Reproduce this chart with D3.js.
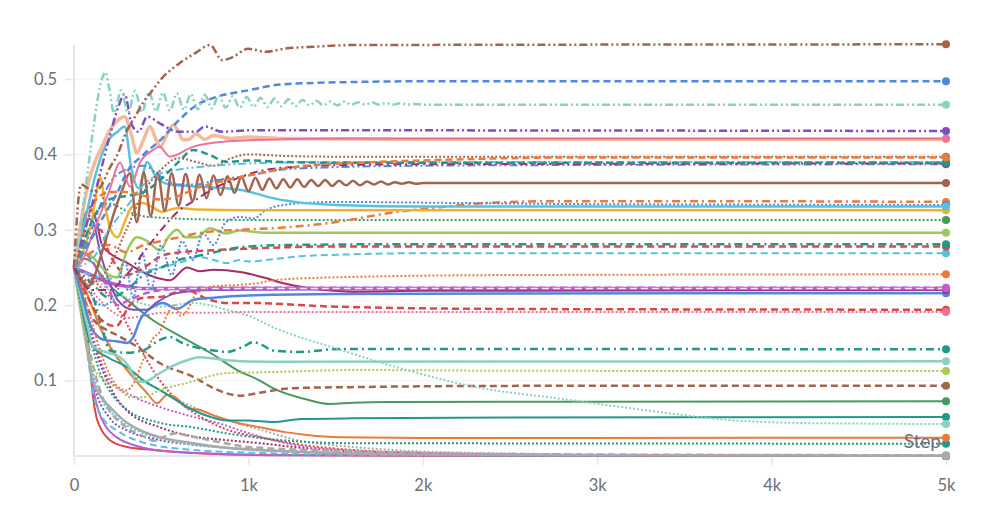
<!DOCTYPE html>
<html><head><meta charset="utf-8">
<script src="https://cdn.jsdelivr.net/npm/d3@7"></script>
<style>body{margin:0;background:#fff;} svg{display:block;} text{font-family:"Source Sans Pro",Lato,"Open Sans",sans-serif;}</style>
</head><body><svg id="c" width="997" height="524"></svg>
<script>
// ---- axis ticks ----
const xTicks = [0, 1000, 2000, 3000, 4000, 5000];
const xTickLabels = ["0", "1k", "2k", "3k", "4k", "5k"];
const yTicks = [0.1, 0.2, 0.3, 0.4, 0.5];
const xTitle = "Step";

// ---- series data: [step, value] ----
const redSolid = [[0,.25],[34,.233],[55,.2],[75,.167],[92,.12],[109,.078],[128,.052],[149,.0385],[206,.021],[304,.012],[453,.008],[683,.004],[1000,.0015],[2000,.0003],[5000,0]];
const violetSolid = [[0,.25],[40,.21],[80,.14],[110,.09],[140,.06],[180,.04],[250,.024],[350,.014],[500,.007],[800,.003],[1200,.001],[5000,0]];
const cyanDashLow = [[0,.25],[40,.2],[80,.13],[109,.085],[166,.05],[246,.034],[395,.018],[683,.008],[1066,.004],[2000,.001],[5000,0]];
const purpleDot = [[0,.25],[40,.21],[80,.15],[109,.1],[206,.05],[304,.034],[493,.021],[683,.015],[1000,.009],[1500,.004],[2500,.001],[5000,0]];
const cyanDot = [[0,.25],[50,.19],[100,.12],[150,.08],[250,.05],[400,.03],[600,.018],[900,.01],[1400,.005],[2500,.001],[5000,0]];
const maroonDot = [[0,.25],[50,.21],[100,.16],[200,.095],[304,.06],[493,.038],[683,.026],[877,.021],[1066,.017],[1300,.011],[1600,.006],[2000,.003],[3000,.001],[5000,0]];
const magentaDot = [[0,.25],[60,.2],[120,.15],[206,.1],[350,.078],[493,.065],[683,.052],[850,.042],[952,.034],[1140,.021],[1335,.012],[1525,.008],[2000,.004],[3000,.001],[5000,0]];
const redDot = [[0,.25],[100,.235],[246,.198],[361,.15],[493,.1],[600,.072],[683,.058],[877,.035],[1066,.025],[1300,.015],[1600,.008],[2000,.004],[3000,.001],[5000,0]];
const grayDot = [[0,.25],[100,.2],[246,.131],[493,.0875],[683,.065],[877,.048],[1066,.035],[1300,.02],[1600,.012],[2000,.006],[3000,.002],[5000,0]];
const graySolid = [[0,.25],[40,.19],[80,.135],[109,.1],[150,.08],[206,.065],[304,.044],[400,.032],[493,.025],[683,.017],[877,.011],[1066,.008],[1500,.004],[2000,.002],[3000,.001],[5000,.0005]];
const grayDash = [[0,.25],[40,.2],[80,.15],[120,.11],[160,.08],[200,.062],[300,.038],[400,.026],[460,.02],[520,.026],[580,.03],[650,.027],[800,.02],[1000,.012],[1500,.007],[2000,.004],[3000,.002],[5000,.001]];
const tealDot = [[0,.25],[50,.2],[100,.15],[150,.11],[200,.088],[300,.062],[493,.044],[683,.038],[877,.03],[1066,.024],[1300,.019],[1600,.017],[5000,.0163]];
const orangeSolid = [[0,.25],[50,.23],[100,.2],[150,.17],[206,.145],[304,.114],[418,.0835],[476,.07],[533,.081],[580,.078],[648,.064],[722,.061],[820,.052],[935,.044],[1066,.038],[1200,.032],[1335,.028],[1525,.025],[2000,.024],[5000,.0243]];
const tealSolid = [[0,.25],[40,.2],[80,.16],[109,.145],[200,.13],[304,.118],[400,.1],[493,.0875],[600,.072],[683,.061],[780,.052],[877,.047],[1000,.047],[1140,.045],[1300,.049],[1600,.05],[2500,.051],[5000,.0517]];
const greenSolid = [[0,.25],[50,.262],[100,.258],[150,.242],[206,.226],[304,.207],[453,.18],[648,.154],[780,.137],[935,.114],[1066,.1],[1140,.09],[1335,.075],[1468,.069],[1600,.0705],[1800,.0716],[3000,.072],[5000,.0725]];
const brownDash = [[0,.25],[50,.215],[100,.185],[189,.167],[250,.16],[361,.145],[493,.123],[683,.105],[800,.09],[877,.083],[950,.08],[1066,.084],[1256,.09],[1640,.0915],[2500,.093],[5000,.0932]];
const ygDot = [[0,.25],[40,.19],[80,.14],[110,.118],[180,.1],[264,.0875],[321,.078],[395,.078],[493,.0875],[648,.097],[877,.11],[1066,.111],[1640,.114],[2500,.113],[5000,.1127]];
const mintSolid = [[0,.25],[40,.21],[80,.17],[110,.145],[180,.138],[264,.131],[310,.12],[361,.1],[395,.098],[440,.102],[493,.11],[570,.12],[648,.127],[722,.131],[877,.127],[1100,.125],[5000,.1256]];
const tealDashDotLow = [[0,.25],[60,.23],[110,.21],[160,.17],[206,.14],[300,.137],[395,.14],[493,.154],[550,.158],[620,.15],[683,.145],[800,.14],[877,.138],[970,.145],[1028,.151],[1080,.147],[1140,.14],[1296,.138],[1525,.142],[5000,.1415]];
const mintDot = [[0,.25],[100,.24],[200,.22],[300,.21],[493,.198],[683,.203],[877,.194],[1000,.186],[1140,.171],[1525,.141],[1909,.114],[2290,.092],[2787,.076],[3170,.064],[3500,.054],[3744,.048],[4123,.044],[4500,.043],[5000,.0424]];
const pinkDot = [[0,.25],[100,.22],[200,.195],[300,.183],[400,.186],[500,.19],[800,.19],[1000,.191],[5000,.191]];
const redDash = [[0,.25],[80,.21],[160,.18],[240,.172],[320,.2],[400,.21],[493,.211],[640,.22],[780,.207],[880,.203],[1000,.203],[1500,.198],[2500,.195],[5000,.194]];
const blueSolid = [[0,.25],[50,.21],[100,.17],[172,.154],[250,.152],[304,.15],[340,.158],[378,.18],[453,.198],[510,.203],[590,.195],[683,.207],[800,.21],[1000,.213],[1500,.215],[5000,.216]];
const purpleSolid = [[0,.25],[40,.29],[80,.315],[110,.31],[150,.27],[200,.233],[250,.207],[338,.194],[418,.194],[470,.203],[590,.216],[800,.22],[1500,.221],[5000,.221]];
const maroonSolid = [[0,.25],[40,.3],[90,.33],[130,.31],[160,.28],[200,.27],[304,.256],[453,.238],[550,.233],[648,.25],[720,.245],[800,.247],[952,.244],[1100,.236],[1200,.229],[1335,.223],[1600,.218],[2000,.219],[5000,.22]];
const magentaSolid = [[0,.25],[100,.24],[200,.23],[300,.225],[400,.222],[5000,.222]];
const magentaDash = [[0,.25],[50,.27],[100,.26],[150,.24],[200,.22],[250,.2],[300,.205],[400,.215],[500,.22],[700,.223],[5000,.223]];
const paleDash = [[0,.25],[100,.235],[200,.225],[300,.222],[5000,.222]];
const orangeDot = [[0,.25],[50,.22],[100,.18],[150,.14],[200,.11],[250,.092],[300,.087],[350,.1],[400,.13],[450,.155],[493,.165],[540,.19],[580,.2],[610,.186],[640,.19],[700,.215],[800,.225],[950,.227],[1050,.229],[1140,.233],[1500,.237],[2500,.24],[5000,.241]];
const cyanDash = [[0,.25],[100,.24],[200,.235],[300,.24],[400,.245],[500,.25],[600,.256],[722,.264],[800,.26],[877,.256],[950,.26],[1000,.258],[1140,.261],[1300,.265],[1525,.267],[2000,.269],[5000,.269]];
const redDashHigh = [[0,.25],[100,.29],[150,.3],[200,.27],[250,.25],[300,.24],[400,.25],[500,.265],[600,.27],[800,.273],[1000,.275],[1500,.278],[5000,.278]];
const tealDashDot = [[0,.25],[100,.23],[200,.21],[300,.22],[400,.24],[500,.25],[600,.26],[700,.265],[800,.27],[900,.275],[1000,.278],[1300,.28],[2000,.281],[5000,.281]];
const lightGreen = [[0,.25],[40,.27],[100,.265],[160,.25],[200,.24],[246,.237],[300,.27],[361,.29],[420,.285],[493,.273],[540,.29],[590,.3],[640,.29],[700,.29],[780,.302],[870,.295],[950,.299],[1100,.296],[1500,.296],[5000,.296]];
const greenDot = [[0,.25],[50,.28],[100,.31],[150,.33],[200,.335],[300,.325],[400,.318],[500,.316],[700,.314],[1000,.313],[5000,.313]];
const orangeDashDot = [[0,.25],[100,.27],[200,.28],[300,.27],[400,.28],[500,.285],[600,.29],[700,.295],[800,.298],[950,.3],[1200,.303],[1525,.311],[1800,.322],[2100,.33],[2400,.336],[2800,.338],[3500,.338],[5000,.337]];
const blueDot = [[0,.25],[80,.22],[160,.2],[240,.21],[290,.26],[340,.21],[390,.27],[440,.22],[500,.28],[560,.24],[620,.285],[680,.26],[740,.295],[800,.28],[870,.31],[950,.317],[1030,.315],[1100,.326],[1200,.333],[1500,.337],[2000,.336],[3000,.334],[5000,.333]];
const yellowSolid = [[0,.25],[50,.27],[100,.31],[130,.35],[150,.37],[180,.33],[210,.3],[250,.29],[290,.31],[330,.33],[390,.336],[450,.33],[500,.324],[600,.329],[700,.327],[1000,.326],[5000,.326]];
const cyanSolid = [[0,.25],[40,.29],[80,.33],[120,.37],[160,.4],[200,.42],[250,.43],[290,.437],[330,.38],[370,.355],[420,.39],[470,.37],[550,.36],[740,.357],[950,.353],[1180,.34],[1500,.333],[2000,.331],[5000,.331]];
const brownSolid = [[0,.25],[40,.235],[80,.225],[120,.24],[160,.27],[200,.3],[240,.33],[280,.355],[320,.375],[360,.31],[400,.376],[440,.318],[480,.376],[520,.325],[560,.375],[600,.332],[640,.374],[680,.338],[720,.373],[760,.342],[800,.372],[840,.346],[880,.371],[920,.349],[960,.37],[1000,.351],[1040,.369],[1080,.353],[1120,.368],[1160,.355],[1200,.367],[1240,.356],[1280,.367],[1320,.357],[1360,.366],[1400,.358],[1440,.366],[1480,.358],[1520,.365],[1560,.359],[1600,.365],[1640,.359],[1680,.364],[1720,.36],[1760,.364],[1800,.36],[1840,.363],[1880,.361],[1920,.363],[1960,.361],[2000,.362],[3000,.362],[5000,.362]];
const brownDot = [[0,.25],[100,.23],[200,.25],[300,.3],[400,.35],[500,.38],[600,.395],[700,.39],[800,.385],[900,.395],[1000,.4],[1200,.398],[1500,.397],[5000,.397]];
const cyanDDD = [[0,.25],[100,.26],[200,.3],[300,.33],[400,.36],[500,.375],[600,.38],[800,.385],[1000,.388],[1500,.39],[5000,.39]];
const blueDDD = [[0,.25],[100,.3],[200,.36],[300,.38],[400,.385],[500,.37],[600,.36],[700,.36],[800,.365],[1000,.372],[1200,.38],[1500,.383],[2000,.385],[3000,.386],[5000,.387]];
const maroonDashDot = [[0,.25],[100,.22],[200,.22],[300,.24],[400,.27],[500,.3],[600,.325],[700,.34],[800,.355],[900,.365],[1066,.378],[1300,.384],[1600,.386],[2000,.387],[5000,.388]];
const tealDash = [[0,.25],[50,.28],[100,.31],[150,.33],[200,.34],[300,.345],[400,.35],[493,.366],[600,.39],[683,.406],[780,.399],[877,.39],[1000,.392],[1200,.39],[1500,.389],[5000,.389]];
const orangeDash = [[0,.25],[50,.29],[100,.33],[150,.345],[200,.35],[300,.35],[400,.345],[500,.34],[600,.345],[700,.355],[877,.366],[1066,.375],[1256,.383],[1640,.389],[2000,.392],[2500,.395],[3000,.396],[5000,.396]];
const pinkSolid = [[0,.25],[50,.26],[100,.29],[150,.32],[200,.35],[264,.389],[321,.357],[380,.39],[453,.406],[490,.41],[550,.397],[680,.41],[870,.417],[1200,.42],[1600,.421],[5000,.421]];
const peachSolid = [[0,.25],[40,.31],[80,.36],[120,.39],[160,.41],[200,.43],[250,.445],[290,.45],[330,.425],[360,.402],[400,.42],[436,.437],[470,.42],[495,.41],[530,.425],[568,.439],[600,.43],[625,.419],[660,.42],[700,.427],[750,.42],[800,.425],[900,.421],[1000,.423],[1200,.421],[2000,.42],[5000,.42]];
const purpleDDD = [[0,.25],[100,.33],[200,.42],[250,.46],[290,.48],[330,.44],[370,.43],[420,.45],[500,.44],[600,.43],[700,.43],[750,.437],[850,.43],[1000,.432],[5000,.431]];
const blueDash = [[0,.25],[80,.28],[150,.31],[200,.33],[250,.35],[300,.375],[400,.4],[500,.42],[600,.445],[700,.465],[800,.475],[1000,.485],[1200,.493],[1600,.496],[2000,.497],[5000,.497]];
const mintDDD = [[0,.25],[40,.31],[80,.38],[120,.45],[160,.5],[180,.509],[200,.49],[230,.455],[270,.485],[310,.455],[350,.484],[390,.456],[430,.483],[470,.457],[510,.482],[550,.458],[590,.481],[630,.459],[670,.48],[710,.46],[750,.479],[790,.461],[830,.478],[870,.462],[910,.477],[950,.462],[990,.476],[1030,.463],[1070,.475],[1110,.463],[1150,.474],[1190,.464],[1230,.473],[1270,.464],[1310,.472],[1350,.465],[1390,.471],[1430,.465],[1470,.47],[1510,.465],[1550,.47],[1590,.466],[1630,.469],[1670,.466],[1710,.469],[1750,.466],[1790,.468],[1830,.466],[1870,.468],[1910,.466],[1950,.467],[2000,.466],[5000,.466]];
const brownDDD = [[0,.25],[40,.36],[80,.355],[120,.35],[160,.36],[200,.38],[250,.4],[300,.43],[350,.45],[400,.47],[450,.485],[500,.5],[600,.52],[700,.535],[780,.545],[850,.525],[900,.528],[1000,.54],[1100,.536],[1200,.54],[1400,.543],[1600,.545],[5000,.546]];

// ---- styles ----
const COL = {brown:"#a3634c", blue:"#5387dd", mint:"#88d2bf", purple:"#7e4fc0", peach:"#f5b99b", pink:"#ea7399",
  orange:"#e97b3b", teal:"#22978a", maroon:"#a22d68", cyan:"#58c2de", yellow:"#efb22e", green:"#479a5f",
  lgreen:"#9dc95c", red:"#da4848", magenta:"#b456c9", violet:"#c15cd2", gray:"#a9a9a9", yg:"#a9cc55", pale:"#f2e6f6"};
const DASH = {solid:null, dash:"7,4", dot:"2,2", dd:"8,4,2,4", ddd:"8,3,2,3,2,3"};

const series = [
  [redSolid, COL.red, "solid", 2], [violetSolid, COL.violet, "solid", 2], [cyanDashLow, COL.cyan, "dash", 2],
  [purpleDot, COL.purple, "dot", 2], [cyanDot, COL.cyan, "dot", 2], [maroonDot, COL.maroon, "dot", 2],
  [magentaDot, COL.violet, "dot", 2], [redDot, COL.red, "dot", 2], [grayDot, COL.gray, "dot", 2],
  [graySolid, COL.gray, "solid", 2.5], [grayDash, COL.gray, "dash", 2.5], [tealDot, COL.teal, "dot", 2],
  [orangeSolid, COL.orange, "solid", 2], [tealSolid, COL.teal, "solid", 2], [greenSolid, COL.green, "solid", 2],
  [brownDash, COL.brown, "dash", 2.5], [ygDot, COL.yg, "dot", 2], [mintSolid, COL.mint, "solid", 2.5],
  [tealDashDotLow, COL.teal, "dd", 2.5], [mintDot, COL.mint, "dot", 2], [redDash, COL.red, "dash", 2.5],
  [pinkDot, COL.pink, "dot", 2], [blueSolid, COL.blue, "solid", 2.5], [purpleSolid, COL.purple, "solid", 2],
  [maroonSolid, COL.maroon, "solid", 2], [magentaSolid, COL.magenta, "solid", 3.5], [magentaDash, COL.violet, "dash", 2.5],
  [paleDash, COL.pale, "dash", 1.5], [orangeDot, COL.orange, "dot", 2], [cyanDash, COL.cyan, "dash", 2],
  [redDashHigh, COL.red, "dash", 2.5], [tealDashDot, COL.teal, "dd", 2.5], [lightGreen, COL.lgreen, "solid", 2.5],
  [greenDot, COL.green, "dot", 2], [orangeDashDot, COL.orange, "dd", 2.5], [blueDot, COL.blue, "dot", 2],
  [yellowSolid, COL.yellow, "solid", 2.5], [cyanSolid, COL.cyan, "solid", 2.5], [brownSolid, COL.brown, "solid", 2.5],
  [brownDot, COL.brown, "dot", 2], [cyanDDD, COL.cyan, "ddd", 2], [blueDDD, COL.blue, "ddd", 2],
  [maroonDashDot, COL.maroon, "dd", 2], [tealDash, COL.teal, "dash", 2.5], [orangeDash, COL.orange, "dash", 2.5],
  [peachSolid, COL.peach, "solid", 3.5], [pinkSolid, COL.pink, "solid", 2], [purpleDDD, COL.purple, "ddd", 2.5],
  [blueDash, COL.blue, "dash", 2.5], [mintDDD, COL.mint, "ddd", 2.5], [brownDDD, COL.brown, "ddd", 2.5]
];

// ---- drawing ----
const svg = d3.select("#c");
const x = d3.scaleLinear().domain([0, 5000]).range([74, 946]);
const y = d3.scaleLinear().domain([0, 0.5]).range([456, 79]);
const axisCol = "#e6e6e6", textCol = "#6e6e78";

// gridlines
svg.append("g").selectAll("line").data(yTicks).join("line")
  .attr("x1", 74).attr("x2", 946).attr("y1", d => y(d)).attr("y2", d => y(d))
  .attr("stroke", "#f1f1f1").attr("stroke-width", 1);

// y axis
const yAxis = svg.append("g").attr("transform", "translate(74,0)")
  .call(d3.axisLeft(y).tickValues(yTicks).tickFormat(d3.format(".1f")).tickSize(9).tickPadding(8));
yAxis.select(".domain").attr("stroke", axisCol).attr("stroke-width", 2).attr("d", `M0,${y(0)}V45`);
yAxis.selectAll(".tick line").attr("stroke", axisCol).attr("stroke-width", 1.5);
yAxis.selectAll("text").attr("fill", textCol).attr("font-size", 16.5);

// x axis
const xAxis = svg.append("g").attr("transform", `translate(0,${y(0)})`)
  .call(d3.axisBottom(x).tickValues(xTicks).tickFormat((d, i) => xTickLabels[i]).tickSize(9).tickPadding(14));
xAxis.select(".domain").attr("stroke", axisCol).attr("stroke-width", 2).attr("d", "M74,0H946");
xAxis.selectAll(".tick line").attr("stroke", axisCol).attr("stroke-width", 1.5);
xAxis.selectAll("text").attr("fill", textCol).attr("font-size", 16.5);

// lines
const line = d3.line().x(d => x(d[0])).y(d => y(d[1])).curve(d3.curveMonotoneX);
const lg = svg.append("g").attr("fill", "none").attr("stroke-linejoin", "round");
series.forEach(([data, color, dash, w]) => {
  lg.append("path").attr("d", line(data)).attr("stroke", color).attr("stroke-width", w)
    .attr("stroke-dasharray", DASH[dash]);
});

// x title
svg.append("text").attr("x", 941).attr("y", 448).attr("text-anchor", "end")
  .attr("fill", textCol).attr("font-size", 19).text(xTitle);

// end dots
const dg = svg.append("g");
series.forEach(([data, color]) => {
  if (color === COL.pale) return;
  const last = data[data.length - 1];
  dg.append("circle").attr("cx", x(last[0])).attr("cy", y(last[1])).attr("r", 4).attr("fill", color);
});
</script></body></html>
